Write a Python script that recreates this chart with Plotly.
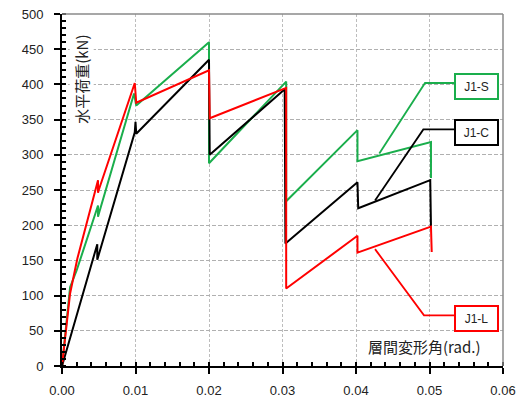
import plotly.graph_objects as go

# Story drift angle (rad) vs. horizontal load (kN) envelopes
x_s = [0, 0.0011, 0.0020, 0.0048, 0.0049, 0.0049, 0.0050, 0.0098, 0.0101,
       0.0200, 0.0200, 0.0305, 0.0305, 0.0402, 0.0402, 0.0502, 0.0502]
y_s = [0, 112, 136, 222, 228, 212, 216, 387, 370,
       460, 288, 404, 234, 335, 291, 318, 267]

x_c = [0, 0.0013, 0.0046, 0.0048, 0.0048, 0.0099, 0.0100, 0.0101,
       0.0200, 0.0201, 0.0303, 0.0304, 0.0402, 0.0403, 0.0501, 0.0502]
y_c = [0, 47, 165, 173, 151, 332, 347, 330,
       435, 300, 393, 174, 261, 224, 264, 198]

x_l = [0, 0.0011, 0.0021, 0.0047, 0.0049, 0.0049, 0.0050, 0.0099, 0.0101,
       0.0200, 0.0201, 0.0305, 0.0305, 0.0402, 0.0402, 0.0502, 0.0503]
y_l = [0, 103, 153, 255, 264, 246, 250, 402, 374,
       420, 352, 395, 110, 185, 161, 198, 162]

series_names = ["J1-S", "J1-C", "J1-L"]
series_colors = ["#1aae4c", "#000000", "#ff0000"]

# Callout labels: leader polyline (x, y) and label box centre
leader_x = [[0.04317, 0.04939, 0.05333], [0.04259, 0.04916, 0.05333], [0.04259, 0.04925, 0.05333]]
leader_y = [[302, 402, 402], [235, 336, 336], [166, 72, 72]]
label_x = [0.0564, 0.0564, 0.0564]
label_y = [397, 331, 68]

x_ticks = [0, 0.01, 0.02, 0.03, 0.04, 0.05, 0.06]
x_tick_text = ["0.00", "0.01", "0.02", "0.03", "0.04", "0.05", "0.06"]

fig = go.Figure()

for xs, ys, name, col in zip([x_s, x_c, x_l], [y_s, y_c, y_l], series_names, series_colors):
    fig.add_trace(go.Scatter(x=xs, y=ys, mode="lines", name=name,
                             line=dict(color=col, width=2), hoverinfo="skip"))

for lx, ly, col in zip(leader_x, leader_y, series_colors):
    fig.add_trace(go.Scatter(x=lx, y=ly, mode="lines", line=dict(color=col, width=1.8),
                             hoverinfo="skip", showlegend=False))

for name, bx, by, col in zip(series_names, label_x, label_y, series_colors):
    fig.add_annotation(x=bx, y=by, xref="x", yref="y", text=name, showarrow=False,
                       font=dict(family="Liberation Sans", size=12, color="#222"),
                       bgcolor="white", bordercolor=col, borderwidth=2, borderpad=0,
                       width=41, height=23)

# Axis titles placed inside the plotting area
fig.add_annotation(x=0.00272, y=408, xref="x", yref="y", text="水平荷重(kN)",
                   textangle=-90, showarrow=False, bgcolor="white",
                   font=dict(family="Noto Sans CJK JP", size=15, color="#222"))
fig.add_annotation(x=0.04925, y=27, xref="x", yref="y", text="層間変形角(rad.)",
                   showarrow=False, bgcolor="white",
                   font=dict(family="Noto Sans CJK JP", size=15, color="#222"))

# Top and right frame lines
fig.add_shape(type="line", xref="paper", yref="paper", x0=0, x1=1, y0=1, y1=1,
              line=dict(color="#8a8a8a", width=1.5))
fig.add_shape(type="line", xref="paper", yref="paper", x0=1, x1=1, y0=0, y1=1,
              line=dict(color="#8a8a8a", width=1.5))

fig.update_layout(
    width=518, height=399,
    margin=dict(l=62, r=15, t=14, b=33),
    paper_bgcolor="white", plot_bgcolor="white",
    showlegend=False,
    font=dict(family="Liberation Sans", size=13, color="#222"),
)
fig.update_xaxes(
    range=[0, 0.06], tickvals=x_ticks, ticktext=x_tick_text,
    showline=True, linecolor="black", linewidth=2,
    ticks="outside", ticklen=6, tickcolor="black", tickwidth=1.5,
    ticklabelstandoff=5, automargin=False,
    showgrid=True, gridcolor="#bdbdbd", griddash="3px,2px", gridwidth=1,
    minor=dict(dtick=0.002, ticks="inside", ticklen=4, tickcolor="black", showgrid=False),
    zeroline=False,
)
fig.update_yaxes(
    range=[0, 500], dtick=50,
    showline=True, linecolor="black", linewidth=2,
    ticks="outside", ticklen=6, tickcolor="black", tickwidth=1.5,
    ticklabelstandoff=8, automargin=False,
    showgrid=True, gridcolor="#b0b0b0", griddash="4px,2px", gridwidth=1,
    minor=dict(dtick=10, ticks="inside", ticklen=4, tickcolor="black", showgrid=False),
    zeroline=False,
)

fig.write_html("out.html")
